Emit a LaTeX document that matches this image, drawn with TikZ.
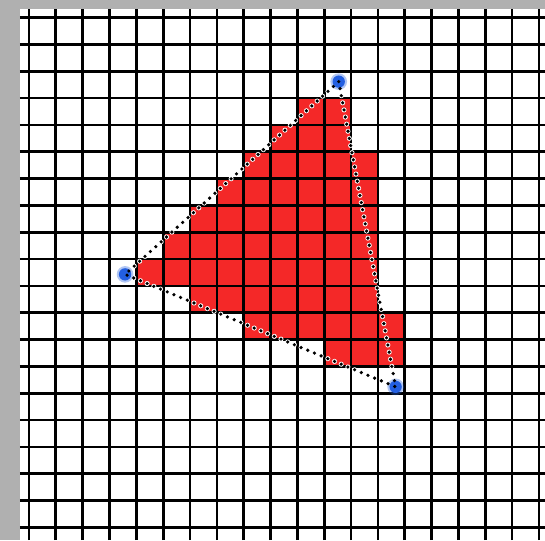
\documentclass[tikz,border=0pt]{standalone}
\usepackage{tikz}
\usetikzlibrary{positioning}

\definecolor{pixred}{RGB}{244,40,40}
\definecolor{vertblue}{RGB}{35,95,225}
\definecolor{frame}{RGB}{176,176,176}

\begin{document}
\begin{tikzpicture}[
		x=1cm, y=1cm,
		pix/.style={fill=pixred},
		gridline/.style={line width=1mm, black},
		vertex/.style={circle, fill=vertblue, inner sep=0pt, minimum size=4.6mm},
		halo/.style={circle, fill=vertblue, opacity=0.35, inner sep=0pt, minimum size=6.2mm},
		edge/.style={line width=1.35mm, line cap=round, dash pattern=on 0pt off 2.7mm},
		edgehalo/.style={white, line width=1.9mm, line cap=round, dash pattern=on 0pt off 2.7mm}
		]
		\useasboundingbox (-1.08,-0.467) rectangle (19.225,19.652);
		\fill[frame] (-1.08,-0.467) rectangle (19.225,19.652);
		\fill[white] (-0.335,-0.467) rectangle (19.225,19.317);
		
		% rasterised pixels: row / first column / last column
		\foreach \r/\a/\b in {3/10/11, 4/9/11, 5/8/12, 6/7/12, 7/6/12,
			8/5/12, 9/4/12, 10/6/12, 11/8/13, 12/11/13}
		\foreach \x in {\a,...,\b}
		\fill[pix] (\x,19-\r) rectangle ++(1,-1);
		
		\draw[gridline, step=1] (-0.335,-0.467) grid (19.225,19.317);
		
		% triangle vertices
		\coordinate (c1) at (11.54,16.61);
		\coordinate (c2) at (3.58,9.43);
		\coordinate (c3) at (13.66,5.24);
		\draw[edgehalo] (c1) -- (c2) -- (c3) -- cycle;
		\node[halo] (h1) at (c1) {};
		\node[halo] (h2) at (c2) {};
		\node[halo] (h3) at (c3) {};
		\node[vertex] (p1) at (c1) {};
		\node[vertex] (p2) at (c2) {};
		\node[vertex] (p3) at (c3) {};
		\draw[edge] (p1.center) -- (p2.center) -- (p3.center) -- cycle;
	\end{tikzpicture}
\end{document}
